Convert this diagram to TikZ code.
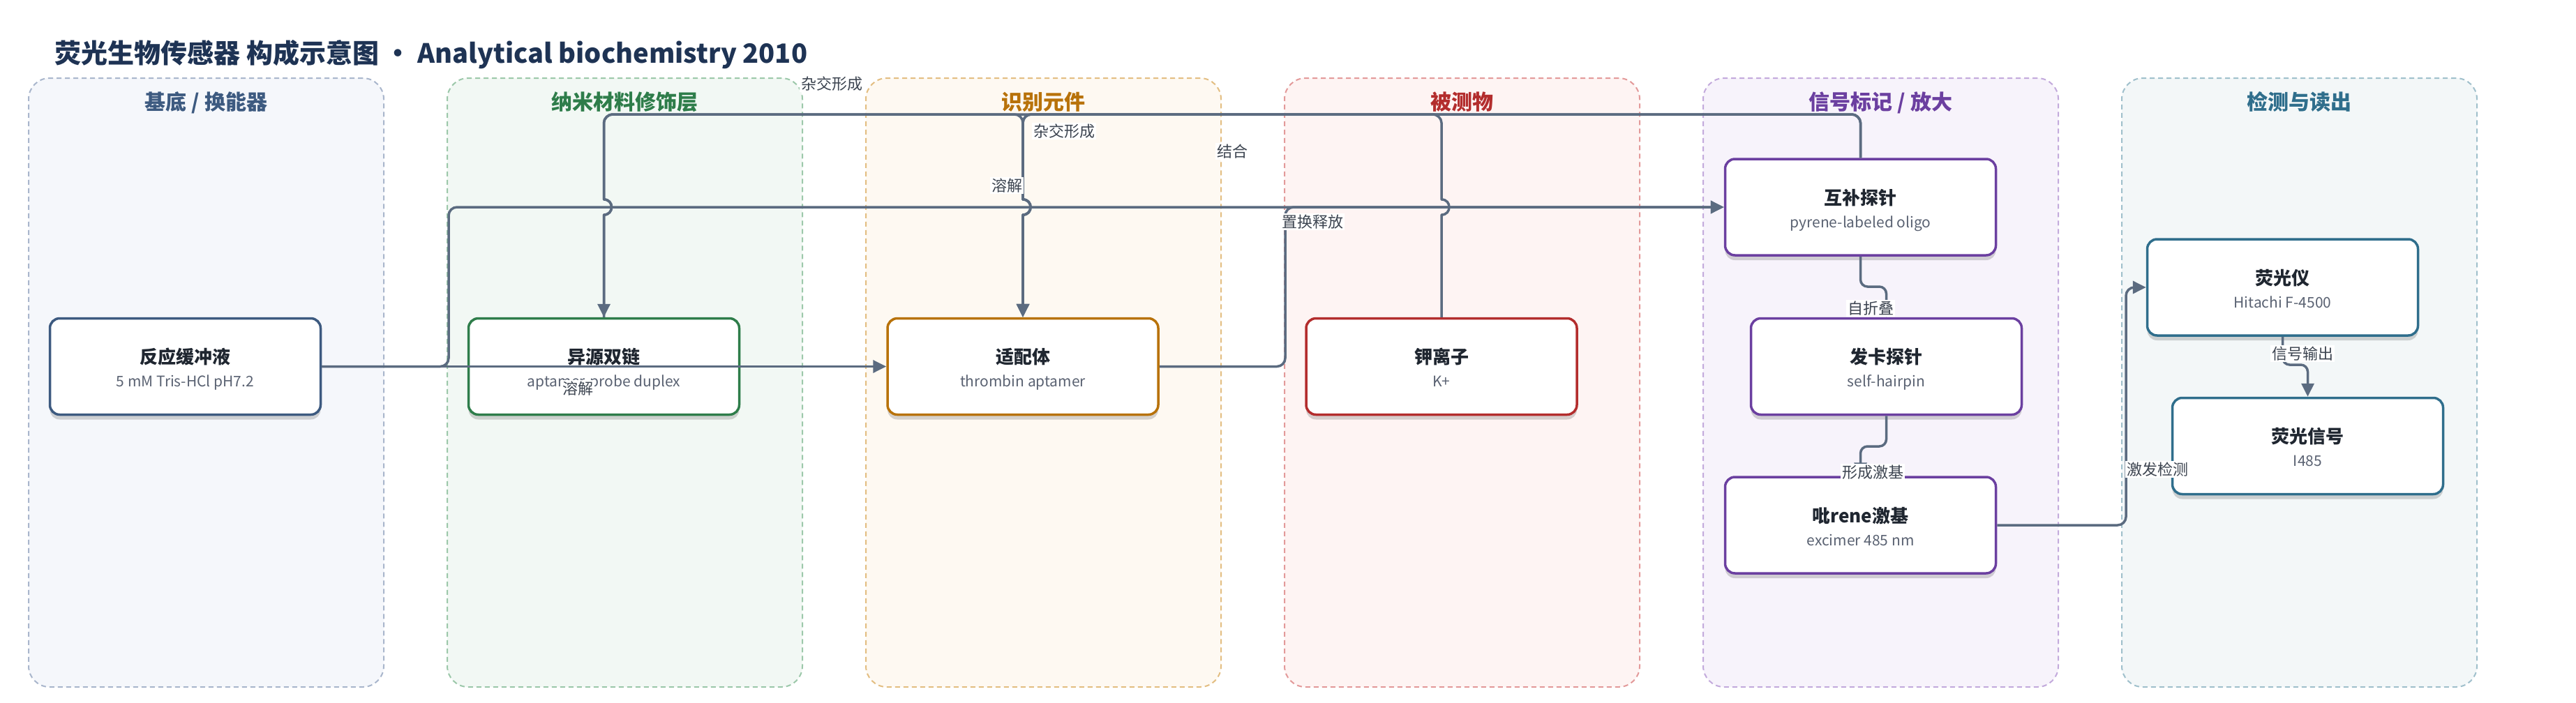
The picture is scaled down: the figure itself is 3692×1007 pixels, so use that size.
\documentclass[tikz,border=0pt]{standalone}
\usepackage{fontspec}
\setmainfont{Noto Sans CJK SC}
\usetikzlibrary{arrows.meta,shadows}
\definecolor{edgec}{HTML}{5B6B80}
\definecolor{lblc}{HTML}{3C4450}
\definecolor{ttlc}{HTML}{1E3354}
\definecolor{ntext}{HTML}{1F2630}
\definecolor{nsub}{HTML}{5A6272}
\definecolor{lf1}{HTML}{F5F7FB}\definecolor{ls1}{HTML}{A9B6CC}\definecolor{lt1}{HTML}{3D5A80}
\definecolor{lf2}{HTML}{F2F8F4}\definecolor{ls2}{HTML}{9CC8AA}\definecolor{lt2}{HTML}{2E7D4A}
\definecolor{lf3}{HTML}{FEF9F2}\definecolor{ls3}{HTML}{E3BE82}\definecolor{lt3}{HTML}{B8720A}
\definecolor{lf4}{HTML}{FEF4F3}\definecolor{ls4}{HTML}{E39A9A}\definecolor{lt4}{HTML}{B32D2D}
\definecolor{lf5}{HTML}{F7F3FB}\definecolor{ls5}{HTML}{C3AADC}\definecolor{lt5}{HTML}{6B3FA0}
\definecolor{lf6}{HTML}{F3F7F8}\definecolor{ls6}{HTML}{A0C0CC}\definecolor{lt6}{HTML}{2F6E8C}
\begin{document}
\begin{tikzpicture}[x=1pt,y=-1pt,
  lane/.style={draw, line width=2pt, dash pattern=on 7pt off 5pt, rounded corners=30pt,
    minimum width=509pt, minimum height=873pt, inner sep=0pt},
  lanetitle/.style={anchor=base, font=\bfseries\fontsize{30}{34}\selectfont},
  box/.style={draw, fill=white, line width=3.5pt, rounded corners=14pt,
    minimum width=388pt, minimum height=138pt, inner sep=0pt,
    drop shadow={shadow xshift=0pt, shadow yshift=-7pt, opacity=0.16, fill=black}},
  ntitle/.style={anchor=base, text=ntext, font=\bfseries\fontsize{26}{30}\selectfont},
  nsubt/.style={anchor=base, text=nsub, font=\fontsize{21}{25}\selectfont},
  conn/.style={draw=edgec, line width=3.5pt, line join=round, -{Triangle[length=19pt,width=18pt]}},
  plain/.style={draw=edgec, line width=3.5pt, line join=round},
  elabel/.style={fill=white, inner sep=2pt, text=lblc, font=\fontsize{22}{26}\selectfont}
]
\useasboundingbox (0,0) rectangle (3692,1007);
\fill[white] (0,0) rectangle (3692,1007);

% title
\node[anchor=base west, text=ttlc, font=\bfseries\fontsize{38}{44}\selectfont] (maintitle) at (75,90)
  {荧光生物传感器 构成示意图 · Analytical biochemistry 2010};

% lanes
\node[lane, draw=ls1, fill=lf1] (L1) at (295.5,548.5) {};
\node[lane, draw=ls2, fill=lf2] (L2) at (895.5,548.5) {};
\node[lane, draw=ls3, fill=lf3] (L3) at (1495.5,548.5) {};
\node[lane, draw=ls4, fill=lf4] (L4) at (2095.5,548.5) {};
\node[lane, draw=ls5, fill=lf5] (L5) at (2695.5,548.5) {};
\node[lane, draw=ls6, fill=lf6] (L6) at (3295.5,548.5) {};
\node[lanetitle, text=lt1] (L1t) at (295.5,157) {基底 / 换能器};
\node[lanetitle, text=lt2] (L2t) at (895.5,157) {纳米材料修饰层};
\node[lanetitle, text=lt3] (L3t) at (1495.5,157) {识别元件};
\node[lanetitle, text=lt4] (L4t) at (2095.5,157) {被测物};
\node[lanetitle, text=lt5] (L5t) at (2695.5,157) {信号标记 / 放大};
\node[lanetitle, text=lt6] (L6t) at (3295.5,157) {检测与读出};

% nodes
\node[box, draw=lt1] (buf) at (265.5,525.5) {};
\node[box, draw=lt2] (dup) at (865.5,525.5) {};
\node[box, draw=lt3] (apt) at (1466,525.5) {};
\node[box, draw=lt4] (kio) at (2066,525.5) {};
\node[box, draw=lt5] (cmp) at (2666.5,297) {};
\node[box, draw=lt5] (hai) at (2703.5,525.5) {};
\node[box, draw=lt5] (exc) at (2666.5,753) {};
\node[box, draw=lt6] (flu) at (3271.5,412) {};
\node[box, draw=lt6] (sig) at (3307.5,639.5) {};

\node[ntitle] (buf-t) at ([yshift=4pt]buf.center) {反应缓冲液};
\node[nsubt] (buf-s) at ([yshift=-29pt]buf.center) {5 mM Tris-HCl pH7.2};
\node[ntitle] (dup-t) at ([yshift=4pt]dup.center) {异源双链};
\node[nsubt] (dup-s) at ([yshift=-29pt]dup.center) {aptamer-probe duplex};
\node[ntitle] (apt-t) at ([yshift=4pt]apt.center) {适配体};
\node[nsubt] (apt-s) at ([yshift=-29pt]apt.center) {thrombin aptamer};
\node[ntitle] (kio-t) at ([yshift=4pt]kio.center) {钾离子};
\node[nsubt] (kio-s) at ([yshift=-29pt]kio.center) {K+};
\node[ntitle] (cmp-t) at ([yshift=4pt]cmp.center) {互补探针};
\node[nsubt] (cmp-s) at ([yshift=-29pt]cmp.center) {pyrene-labeled oligo};
\node[ntitle] (hai-t) at ([yshift=4pt]hai.center) {发卡探针};
\node[nsubt] (hai-s) at ([yshift=-29pt]hai.center) {self-hairpin};
\node[ntitle] (exc-t) at ([yshift=4pt]exc.center) {吡rene激基};
\node[nsubt] (exc-s) at ([yshift=-29pt]exc.center) {excimer 485 nm};
\node[ntitle] (flu-t) at ([yshift=4pt]flu.center) {荧光仪};
\node[nsubt] (flu-s) at ([yshift=-29pt]flu.center) {Hitachi F-4500};
\node[ntitle] (sig-t) at ([yshift=4pt]sig.center) {荧光信号};
\node[nsubt] (sig-s) at ([yshift=-29pt]sig.center) {I485};

% connectors
% buffer -> aptamer
\draw[conn] (buf.east) -- (apt.west);
% buffer -> complementary probe
\draw[conn] (buf.east) -- (631,525.5) .. controls (637.6,525.5) and (643,520.1) .. (643,513.5)
  -- (643,309) .. controls (643,302.4) and (648.4,297) .. (655,297) -- (cmp.west);
% duplex -> aptamer (over the top)
\draw[conn] (dup.north) -- (865.5,308) .. controls (880.2,308) and (880.2,286) .. (865.5,286)
  -- (865.5,176) .. controls (865.5,169.4) and (872.1,164) .. (877.5,164)
  -- (1454,164) .. controls (1460.6,164) and (1466,169.4) .. (1466,176)
  -- (1466,286) .. controls (1480.7,286) and (1480.7,308) .. (1466,308) -- (apt.north);
% complementary probe -> duplex
\draw[conn] (cmp.north) -- (2666.5,176) .. controls (2666.5,169.4) and (2659.9,164) .. (2654.5,164)
  -- (877.5,164) .. controls (872.1,164) and (865.5,169.4) .. (865.5,176)
  -- (865.5,286) .. controls (880.2,286) and (880.2,308) .. (865.5,308) -- (dup.north);
% complementary probe -> aptamer
\draw[conn] (cmp.north) -- (2666.5,176) .. controls (2666.5,169.4) and (2659.9,164) .. (2654.5,164)
  -- (1478,164) .. controls (1471.4,164) and (1466,169.4) .. (1466,176)
  -- (1466,286) .. controls (1480.7,286) and (1480.7,308) .. (1466,308) -- (apt.north);
% K+ -> aptamer
\draw[conn] (kio.north) -- (2066,308) .. controls (2080.7,308) and (2080.7,286) .. (2066,286)
  -- (2066,176) .. controls (2066,169.4) and (2059.4,164) .. (2054,164)
  -- (1478,164) .. controls (1471.4,164) and (1466,169.4) .. (1466,176)
  -- (1466,286) .. controls (1480.7,286) and (1480.7,308) .. (1466,308) -- (apt.north);
% aptamer -> complementary probe
\draw[conn] (apt.east) -- (1830,525.5) .. controls (1836.6,525.5) and (1842,520.1) .. (1842,513.5)
  -- (1842,309) .. controls (1842,302.4) and (1847.4,297) .. (1854,297) -- (cmp.west);
% complementary -> hairpin
\draw[conn] (cmp.south) -- (2666.5,401) .. controls (2666.5,406.5) and (2671,411) .. (2676.5,411)
  -- (2693.5,411) .. controls (2699,411) and (2703.5,415.5) .. (2703.5,421) -- (hai.north);
% hairpin -> excimer
\draw[conn] (hai.south) -- (2703.5,630) .. controls (2703.5,635.5) and (2699,640) .. (2693.5,640)
  -- (2676.5,640) .. controls (2671,640) and (2666.5,644.5) .. (2666.5,650) -- (exc.north);
% excimer -> fluorometer
\draw[conn] (exc.east) -- (3035,753) .. controls (3041.6,753) and (3047,747.6) .. (3047,741)
  -- (3047,424) .. controls (3047,417.4) and (3052.4,412) .. (3059,412) -- (flu.west);
% fluorometer -> signal
\draw[conn] (flu.south) -- (3271.5,513) .. controls (3271.5,518.5) and (3276,523) .. (3281.5,523)
  -- (3297.5,523) .. controls (3303,523) and (3307.5,527.5) .. (3307.5,533) -- (sig.north);

% edge labels
\node[elabel] (lb1) at (828,557) {溶解};
\node[elabel] (lb2) at (1443,266) {溶解};
\node[elabel] (lb3) at (1192,120) {杂交形成};
\node[elabel] (lb4) at (1525,188) {杂交形成};
\node[elabel] (lb5) at (1766,217) {结合};
\node[elabel] (lb6) at (1881,318) {置换释放};
\node[elabel] (lb7) at (2681,442) {自折叠};
\node[elabel] (lb8) at (2684,677) {形成激基};
\node[elabel] (lb9) at (3092,673) {激发检测};
\node[elabel] (lb10) at (3300,507) {信号输出};
\end{tikzpicture}
\end{document}
